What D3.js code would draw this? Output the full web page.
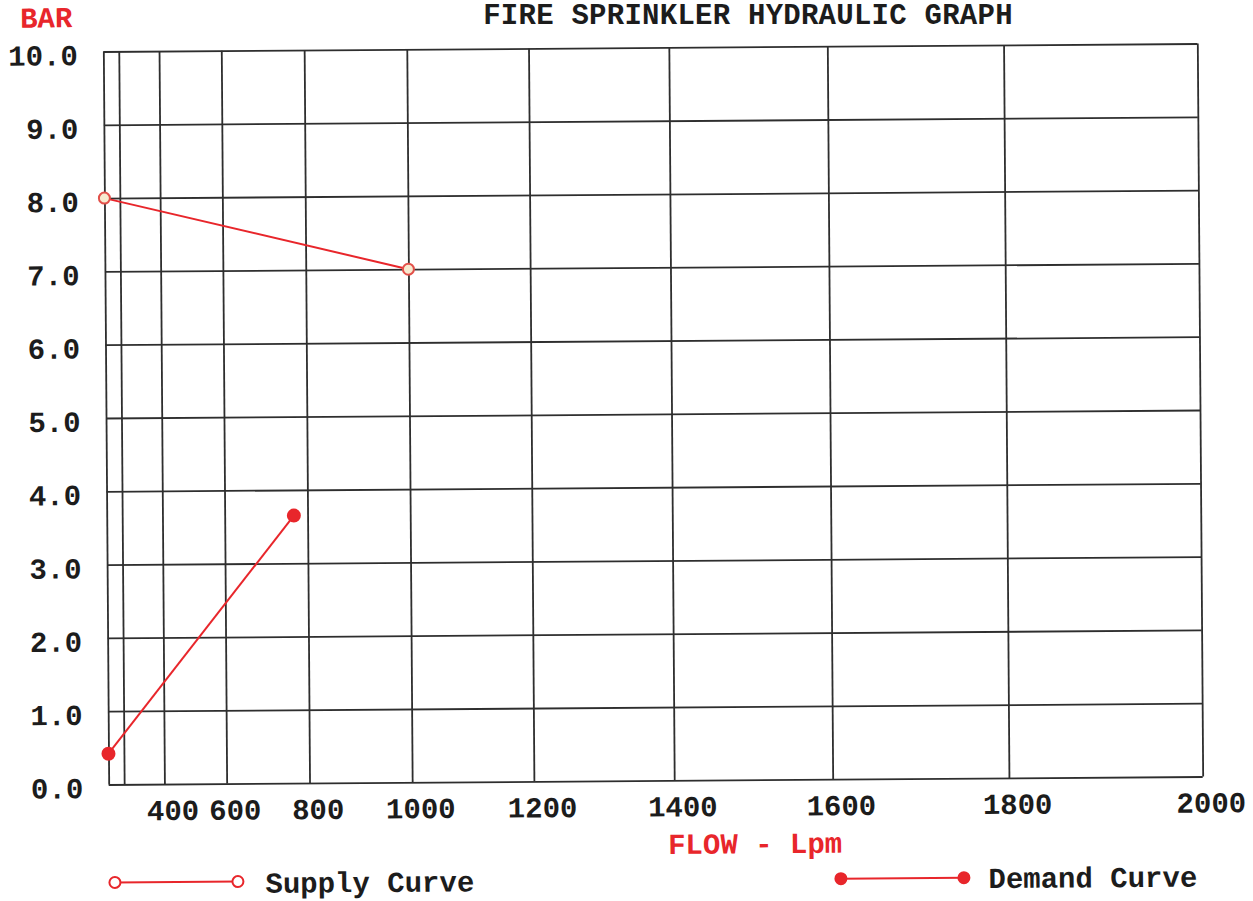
<!DOCTYPE html>
<html><head><meta charset="utf-8">
<script src="https://cdn.jsdelivr.net/npm/d3@7"></script>
<style>
html,body{margin:0;padding:0;background:#fff;}
svg{display:block;}
</style></head><body>
<svg id="chart" width="1253" height="901"></svg>
<script>
// ---- data ----
const flowGrid = [0, 200, 400, 600, 800, 1000, 1200, 1400, 1600, 1800, 2000];
const flowLabels = [400, 600, 800, 1000, 1200, 1400, 1600, 1800, 2000];
const pressureTicks = [0, 1, 2, 3, 4, 5, 6, 7, 8, 9, 10];
const supplyFlow = [0, 1000];
const supplyPressure = [8.0, 7.0];
const demandFlow = [0, 770];
const demandPressure = [0.42, 3.65];
const titleText = "FIRE SPRINKLER HYDRAULIC GRAPH";
const yTitle = "BAR";
const xTitle = "FLOW - Lpm";
const legendNames = ["Supply Curve", "Demand Curve"];

// ---- layout ----
const FONT = "'Liberation Mono','Courier New',monospace";
const FS = 29;
const RED = "#e8262b";
const INK = "#1c1c1c";
const GRID = "#2e2e2e";
const P = {left: 106, top: 47.5, right: 1200, bottom: 780.5};

const x = d3.scalePow().exponent(1.85).domain([0, 2000]).range([P.left, P.right]);
const y = d3.scaleLinear().domain([0, 10]).range([P.bottom, P.top]);

const svg = d3.select("#chart");
const g = svg.append("g").attr("transform", "rotate(-0.42,653,414)");

function styleText(sel, size, color) {
  sel.attr("font-family", FONT).attr("font-weight", "bold")
     .attr("font-size", size).attr("fill", color);
}

// vertical grid
g.append("g")
  .attr("transform", `translate(0,${P.bottom})`)
  .call(d3.axisBottom(x).tickValues(flowGrid).tickSize(-(P.bottom - P.top)).tickFormat(""))
  .call(s => {
    s.select(".domain").remove();
    s.selectAll("line").attr("stroke", GRID).attr("stroke-width", 1.8);
  });

// horizontal grid
g.append("g")
  .attr("transform", `translate(${P.left},0)`)
  .call(d3.axisLeft(y).tickValues(pressureTicks).tickSize(-(P.right - P.left)).tickFormat(""))
  .call(s => {
    s.select(".domain").remove();
    s.selectAll("line").attr("stroke", GRID).attr("stroke-width", 1.8);
  });

// x labels
g.append("g")
  .attr("transform", `translate(0,${P.bottom})`)
  .call(d3.axisBottom(x).tickValues(flowLabels).tickSize(0).tickFormat(d3.format("d")))
  .call(s => {
    s.select(".domain").remove();
    s.attr("font-family", null).attr("font-size", null);
    s.selectAll("text").attr("y", 36).attr("dy", 0).attr("dx", 8)
      .call(t => styleText(t, FS, INK));
  });

// y labels
g.append("g")
  .attr("transform", `translate(${P.left},0)`)
  .call(d3.axisLeft(y).tickValues(pressureTicks).tickSize(0).tickFormat(d3.format(".1f")))
  .call(s => {
    s.select(".domain").remove();
    s.attr("font-family", null).attr("font-size", null);
    s.selectAll("text").attr("x", -25.5).attr("y", 13).attr("dy", 0)
      .call(t => styleText(t, FS, INK));
  });

// titles
svg.append("text").attr("x", 748).attr("y", 24).attr("text-anchor", "middle")
  .attr("letter-spacing", 0.25)
  .text(titleText).call(t => styleText(t, FS, INK));
g.append("text").attr("x", 23).attr("y", 23).attr("text-anchor", "start")
  .text(yTitle).call(t => styleText(t, FS, RED));
g.append("text").attr("x", 752).attr("y", 854).attr("text-anchor", "middle")
  .text(xTitle).call(t => styleText(t, FS, RED));

// curves
const supply = supplyFlow.map((q, i) => ({q, p: supplyPressure[i]}));
const demand = demandFlow.map((q, i) => ({q, p: demandPressure[i]}));
const line = d3.line().x(d => x(d.q)).y(d => y(d.p));

g.append("path").datum(supply).attr("d", line)
  .attr("fill", "none").attr("stroke", RED).attr("stroke-width", 2);
g.append("path").datum(demand).attr("d", line)
  .attr("fill", "none").attr("stroke", RED).attr("stroke-width", 2);

g.selectAll(".sp").data(supply).join("circle").attr("class", "sp")
  .attr("cx", d => x(d.q)).attr("cy", d => y(d.p)).attr("r", 5.5)
  .attr("fill", "#f6ead0").attr("stroke", "#e2504a").attr("stroke-width", 2);
g.selectAll(".dp").data(demand).join("circle").attr("class", "dp")
  .attr("cx", d => x(d.q)).attr("cy", d => y(d.p)).attr("r", 7)
  .attr("fill", RED);

// legend
const leg = g.append("g");
const sx = d3.scaleLinear().domain([0, 1]).range([111.5, 234.5]);
leg.append("line").attr("x1", sx(0)).attr("x2", sx(1)).attr("y1", 878.5).attr("y2", 878.5)
  .attr("stroke", RED).attr("stroke-width", 2);
leg.selectAll(".ls").data([0, 1]).join("circle").attr("class", "ls")
  .attr("cx", d => sx(d)).attr("cy", 878.5).attr("r", 5.5)
  .attr("fill", "#fff").attr("stroke", RED).attr("stroke-width", 2);
leg.append("text").attr("x", 262).attr("y", 890).text(legendNames[0])
  .call(t => styleText(t, FS, INK));

const dx = d3.scaleLinear().domain([0, 1]).range([837.5, 960.5]);
leg.append("line").attr("x1", dx(0)).attr("x2", dx(1)).attr("y1", 880).attr("y2", 880)
  .attr("stroke", RED).attr("stroke-width", 2);
leg.selectAll(".ld").data([0, 1]).join("circle").attr("class", "ld")
  .attr("cx", d => dx(d)).attr("cy", 880).attr("r", 6.5)
  .attr("fill", RED);
leg.append("text").attr("x", 985).attr("y", 890.5).text(legendNames[1])
  .call(t => styleText(t, FS, INK));
</script>
</body></html>
